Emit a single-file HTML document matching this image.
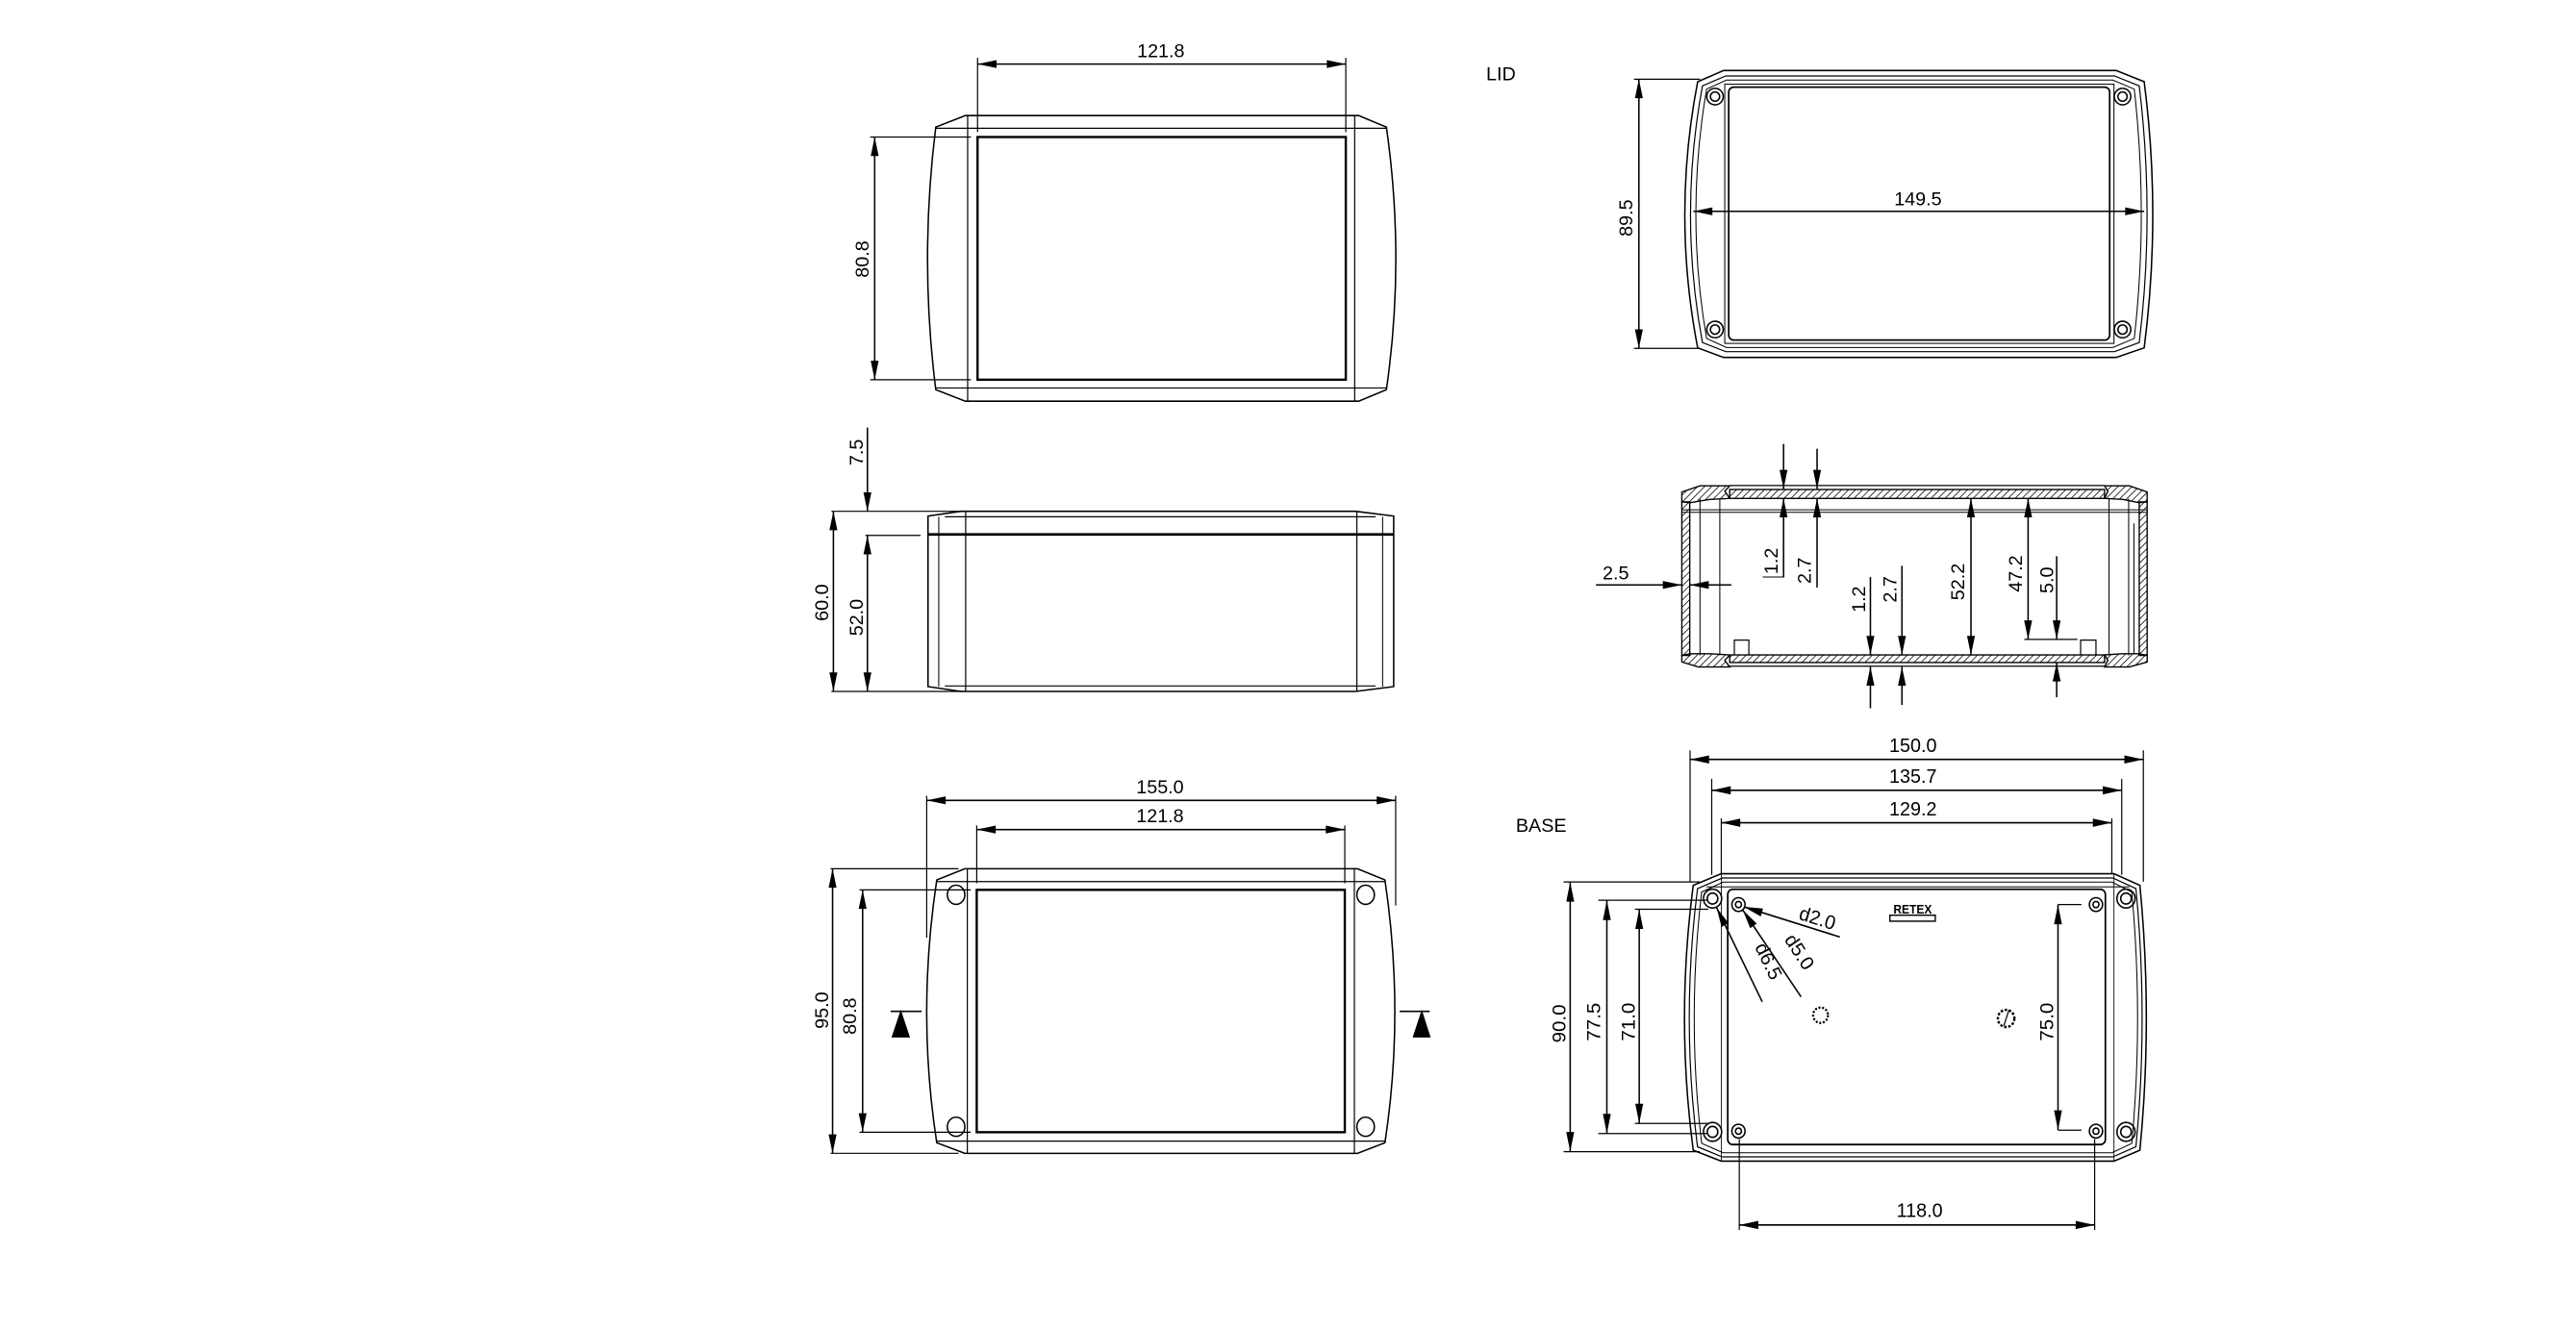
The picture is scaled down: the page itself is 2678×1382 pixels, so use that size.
<!DOCTYPE html>
<html><head><meta charset="utf-8"><style>
html,body{margin:0;padding:0;background:#fff;}
svg{display:block;}
text{font-family:"Liberation Sans",sans-serif;font-size:11.5px;fill:#000;stroke:none;}
</style></head><body>
<svg width="2678" height="1382" viewBox="0 0 1560 805" preserveAspectRatio="none" xmlns="http://www.w3.org/2000/svg">
<defs>
<marker id="a" markerUnits="userSpaceOnUse" viewBox="-12 -3 13 6" refX="0" refY="0" markerWidth="13" markerHeight="6" orient="auto-start-reverse"><path d="M0,0 L-11.5,-2.4 L-11.5,2.4 Z" fill="#000"/></marker>
<pattern id="h" patternUnits="userSpaceOnUse" width="3" height="3" patternTransform="rotate(45)"><line x1="0" y1="0" x2="0" y2="3" stroke="#000" stroke-width="0.9"/></pattern>
</defs>
<rect width="1560" height="805" fill="#fff"/>

<!-- VIEW 1 lid top -->
<g transform="translate(-3,0)" fill="none" stroke="#000" stroke-width="0.9">
<path d="M587.6,70 L825.8,70 L842.6,77 Q854,157 842.6,236 L825.8,243 L587.6,243 L569.7,236 Q559.7,157 569.7,77 Z"/>
<line x1="569.7" y1="77.7" x2="842.6" y2="77.7" stroke-width="0.7"/>
<line x1="569.7" y1="235" x2="842.6" y2="235" stroke-width="0.7"/>
<line x1="589" y1="70" x2="589" y2="243" stroke-width="0.7"/>
<line x1="823.4" y1="70" x2="823.4" y2="243" stroke-width="0.7"/>
<rect x="595" y="83" width="223" height="147" stroke-width="1.4"/>
<line x1="595" y1="35" x2="595" y2="80" stroke-width="0.7"/>
<line x1="818" y1="35" x2="818" y2="80" stroke-width="0.7"/>
<line x1="595" y1="38.8" x2="818" y2="38.8" marker-start="url(#a)" marker-end="url(#a)"/>
<line x1="530" y1="83" x2="591" y2="83" stroke-width="0.7"/>
<line x1="530" y1="230" x2="591" y2="230" stroke-width="0.7"/>
<line x1="532.7" y1="83" x2="532.7" y2="230" marker-start="url(#a)" marker-end="url(#a)"/>
<text x="706" y="34.6" text-anchor="middle">121.8</text>
<text transform="translate(529,157) rotate(-90)" text-anchor="middle">80.8</text>
</g>
<text x="900" y="48.5">LID</text>

<!-- VIEW 2 lid bottom -->
<g transform="translate(-4.5,0)" fill="none" stroke="#000" stroke-width="0.9">
<path d="M1048.3,42.7 L1286,42.7 L1303,49.5 Q1313.4,130 1303,210.7 L1286,216.5 L1048.3,216.5 L1032.6,210.7 Q1017,130 1032.6,49.5 Z"/>
<path d="M1049.6,46 L1285,46 L1300,52 Q1309.5,130 1300,207.5 L1285,213 L1049.6,213 L1035.5,207.5 Q1021,130 1035.5,52 Z" stroke-width="0.7"/>
<path d="M1050,48.5 L1284,48.5 L1297,54 Q1305.5,130 1297,205 L1284,210.5 L1050,210.5 L1038,205 Q1025,130 1038,54 Z" stroke-width="0.6"/>
<rect x="1049" y="51" width="235.7" height="157" stroke-width="0.6"/>
<rect x="1051.4" y="52.8" width="230.7" height="153.2" rx="3" stroke-width="1"/>
<circle cx="1043.1" cy="58.5" r="5"/><circle cx="1043.1" cy="58.5" r="2.8"/>
<circle cx="1289.9" cy="58.5" r="5"/><circle cx="1289.9" cy="58.5" r="2.8"/>
<circle cx="1043.1" cy="199.6" r="5"/><circle cx="1043.1" cy="199.6" r="2.8"/>
<circle cx="1289.9" cy="199.6" r="5"/><circle cx="1289.9" cy="199.6" r="2.8"/>
<line x1="994" y1="48" x2="1034" y2="48" stroke-width="0.7"/>
<line x1="994" y1="211" x2="1034" y2="211" stroke-width="0.7"/>
<line x1="997" y1="48" x2="997" y2="211" marker-start="url(#a)" marker-end="url(#a)"/>
<line x1="1030" y1="128" x2="1303" y2="128" marker-start="url(#a)" marker-end="url(#a)"/>
<text x="1166" y="124.3" text-anchor="middle">149.5</text>
<text transform="translate(993,132) rotate(-90)" text-anchor="middle">89.5</text>
</g>

<!-- VIEW 3 side -->
<g transform="translate(-2.5,0)" fill="none" stroke="#000" stroke-width="0.9">
<path d="M584.4,309.7 L823.4,309.7 L846.5,312.6 L846.5,415.9 L823.4,418.8 L584.4,418.8 L564.5,415.9 L564.5,312.6 Z"/>
<line x1="564.5" y1="323.7" x2="846.5" y2="323.7" stroke-width="1.6"/>
<line x1="574.7" y1="313" x2="835.6" y2="313" stroke-width="0.7"/>
<line x1="574.7" y1="415.5" x2="835.6" y2="415.5" stroke-width="0.7"/>
<line x1="587.3" y1="309.7" x2="587.3" y2="418.8" stroke-width="0.7"/>
<line x1="824.2" y1="309.7" x2="824.2" y2="418.8" stroke-width="0.7"/>
<line x1="571" y1="313" x2="571" y2="416" stroke-width="0.6"/>
<line x1="839.8" y1="313" x2="839.8" y2="416" stroke-width="0.6"/>
<line x1="527.8" y1="259" x2="527.8" y2="309.7" marker-end="url(#a)"/>
<line x1="506" y1="309.7" x2="584" y2="309.7" stroke-width="0.7"/>
<line x1="526.6" y1="324.3" x2="560" y2="324.3" stroke-width="0.7"/>
<line x1="506" y1="418.8" x2="586" y2="418.8" stroke-width="0.7"/>
<line x1="507.2" y1="309.7" x2="507.2" y2="418.8" marker-start="url(#a)" marker-end="url(#a)"/>
<line x1="527.8" y1="324.3" x2="527.8" y2="418.8" marker-start="url(#a)" marker-end="url(#a)"/>
<text transform="translate(525,274) rotate(-90)" text-anchor="middle">7.5</text>
<text transform="translate(504,365) rotate(-90)" text-anchor="middle">60.0</text>
<text transform="translate(525,374) rotate(-90)" text-anchor="middle">52.0</text>
</g>

<!-- VIEW 4 section -->
<g transform="translate(-4.5,-1)" fill="none" stroke="#000" stroke-width="0.9">
<g fill="url(#h)" stroke-width="0.8">
<rect x="1023" y="305" width="4.8" height="93"/>
<rect x="1300" y="305" width="4.8" height="93"/>
<rect x="1052" y="297.5" width="227" height="5.4"/>
<rect x="1052" y="397.7" width="227" height="4.6"/>
<path d="M1023,305 L1023,299 L1034,295.3 L1052,295.3 L1049,298.5 L1052,302.9 L1040,303.5 L1027.8,305.5 Z"/>
<path d="M1304.8,305 L1304.8,299 L1294,295.3 L1279,295.3 L1281,298.5 L1279,302.9 L1290,303.5 L1300,305.5 Z"/>
<path d="M1023,398 L1023,402 L1033,405 L1052,405 L1049,401 L1052,397.7 L1040,397 L1027.8,397 Z"/>
<path d="M1304.8,398 L1304.8,402 L1294,405 L1279,405 L1281,401 L1279,397.7 L1290,397 L1300,397 Z"/>
</g>
<line x1="1052" y1="295.1" x2="1279" y2="295.1" stroke-width="0.7"/>
<line x1="1052" y1="404.5" x2="1279" y2="404.5" stroke-width="0.7"/>
<line x1="1023" y1="309.8" x2="1305" y2="309.8" stroke-width="0.6"/>
<line x1="1023" y1="311.3" x2="1305" y2="311.3" stroke-width="0.6"/>
<line x1="1034" y1="303" x2="1034" y2="398" stroke-width="0.6"/>
<line x1="1046" y1="303" x2="1046" y2="398" stroke-width="0.6"/>
<line x1="1281.7" y1="303" x2="1281.7" y2="398" stroke-width="0.6"/>
<line x1="1293.6" y1="303" x2="1293.6" y2="398" stroke-width="0.6"/>
<line x1="1296.8" y1="318" x2="1296.8" y2="397" stroke-width="0.6"/>
<path d="M1054.8,397.7 L1054.8,388.7 L1063.6,388.7 L1063.6,397.7" stroke-width="0.7"/>
<path d="M1264.5,397.7 L1264.5,388.7 L1273.8,388.7 L1273.8,397.7" stroke-width="0.7"/>
<line x1="971" y1="355.3" x2="1023" y2="355.3" marker-end="url(#a)"/>
<line x1="1053" y1="355.3" x2="1027.8" y2="355.3" marker-end="url(#a)"/>
<line x1="1084.6" y1="269.9" x2="1084.6" y2="297.1" marker-end="url(#a)"/>
<line x1="1084.6" y1="350.5" x2="1084.6" y2="302.9" marker-end="url(#a)"/>
<line x1="1072" y1="350.5" x2="1085" y2="350.5" stroke-width="0.6"/>
<line x1="1104.9" y1="272.8" x2="1104.9" y2="297.1" marker-end="url(#a)"/>
<line x1="1104.9" y1="356.9" x2="1104.9" y2="302.9" marker-end="url(#a)"/>
<line x1="1198.1" y1="302.9" x2="1198.1" y2="397.7" marker-start="url(#a)" marker-end="url(#a)"/>
<line x1="1232.7" y1="302.9" x2="1232.7" y2="388.3" marker-start="url(#a)" marker-end="url(#a)"/>
<line x1="1230.4" y1="388.3" x2="1262.6" y2="388.3" stroke-width="0.7"/>
<line x1="1250" y1="337.9" x2="1250" y2="388.3" marker-end="url(#a)"/>
<line x1="1250" y1="423.3" x2="1250" y2="402.3" marker-end="url(#a)"/>
<line x1="1137.2" y1="350.5" x2="1137.2" y2="397.7" marker-end="url(#a)"/>
<line x1="1137.2" y1="430" x2="1137.2" y2="404.8" marker-end="url(#a)"/>
<line x1="1156.3" y1="343.7" x2="1156.3" y2="397.7" marker-end="url(#a)"/>
<line x1="1156.3" y1="428" x2="1156.3" y2="404.8" marker-end="url(#a)"/>
<text x="983" y="352" text-anchor="middle">2.5</text>
<text transform="translate(1081,340.8) rotate(-90)" text-anchor="middle">1.2</text>
<text transform="translate(1101,346.6) rotate(-90)" text-anchor="middle">2.7</text>
<text transform="translate(1134,364) rotate(-90)" text-anchor="middle">1.2</text>
<text transform="translate(1153,358) rotate(-90)" text-anchor="middle">2.7</text>
<text transform="translate(1194,353.4) rotate(-90)" text-anchor="middle">52.2</text>
<text transform="translate(1229,348.5) rotate(-90)" text-anchor="middle">47.2</text>
<text transform="translate(1248,352.4) rotate(-90)" text-anchor="middle">5.0</text>
</g>

<!-- VIEW 5 base top -->
<g transform="translate(-2.5,0)" fill="none" stroke="#000" stroke-width="0.9">
<path d="M586.8,526.2 L824.6,526.2 L841.2,533 Q853.2,613.6 841.2,692.2 L824.6,698.6 L586.8,698.6 L569.8,692.2 Q557.6,613.6 569.8,533 Z"/>
<line x1="569.8" y1="534" x2="841.2" y2="534" stroke-width="0.7"/>
<line x1="569.8" y1="691.2" x2="841.2" y2="691.2" stroke-width="0.7"/>
<line x1="588.3" y1="526.2" x2="588.3" y2="698.6" stroke-width="0.7"/>
<line x1="822.7" y1="526.2" x2="822.7" y2="698.6" stroke-width="0.7"/>
<rect x="594" y="539" width="222.9" height="146.8" stroke-width="1.4"/>
<ellipse cx="581.5" cy="542" rx="5.3" ry="5.8"/>
<ellipse cx="829.5" cy="542" rx="5.3" ry="5.8"/>
<ellipse cx="581.5" cy="682.5" rx="5.3" ry="5.8"/>
<ellipse cx="829.5" cy="682.5" rx="5.3" ry="5.8"/>
<line x1="563.7" y1="482" x2="563.7" y2="568" stroke-width="0.7"/>
<line x1="847.7" y1="482" x2="847.7" y2="548.5" stroke-width="0.7"/>
<line x1="563.7" y1="484.8" x2="847.7" y2="484.8" marker-start="url(#a)" marker-end="url(#a)"/>
<line x1="594" y1="500" x2="594" y2="535" stroke-width="0.7"/>
<line x1="816.9" y1="500" x2="816.9" y2="535" stroke-width="0.7"/>
<line x1="594" y1="502.5" x2="816.9" y2="502.5" marker-start="url(#a)" marker-end="url(#a)"/>
<line x1="505.5" y1="526.2" x2="583" y2="526.2" stroke-width="0.7"/>
<line x1="505.5" y1="698.6" x2="583" y2="698.6" stroke-width="0.7"/>
<line x1="506.7" y1="526.2" x2="506.7" y2="698.6" marker-start="url(#a)" marker-end="url(#a)"/>
<line x1="523" y1="539" x2="590.4" y2="539" stroke-width="0.7"/>
<line x1="523" y1="685.8" x2="590.4" y2="685.8" stroke-width="0.7"/>
<line x1="524.9" y1="539" x2="524.9" y2="685.8" marker-start="url(#a)" marker-end="url(#a)"/>
<line x1="541.9" y1="612.6" x2="560.6" y2="612.6"/>
<path d="M548,613 L543,628 L553,628 Z" fill="#000"/>
<line x1="850.1" y1="612.6" x2="868.3" y2="612.6"/>
<path d="M863.5,613 L858.6,628 L868.3,628 Z" fill="#000"/>
<text x="705" y="480.6" text-anchor="middle">155.0</text>
<text x="705" y="498" text-anchor="middle">121.8</text>
<text transform="translate(504,612) rotate(-90)" text-anchor="middle">95.0</text>
<text transform="translate(521,615.5) rotate(-90)" text-anchor="middle">80.8</text>
</g>
<text x="918" y="504">BASE</text>

<!-- VIEW 6 base bottom -->
<g transform="translate(-2.5,-14.5) scale(1,1.039)" fill="none" stroke="#000" stroke-width="0.9">
<path d="M1044.9,523.3 L1282.7,523.3 L1298.4,530.1 Q1306.2,607.7 1298.4,684.5 L1282.7,690.9 L1044.9,690.9 L1027.9,684.5 Q1017.3,607.7 1027.9,530.1 Z"/>
<path d="M1045.5,525.8 L1282,525.8 L1296,532 Q1303.5,607.7 1296,682.5 L1282,688.4 L1045.5,688.4 L1030.5,682.5 Q1020.5,607.7 1030.5,532 Z" stroke-width="0.7"/>
<path d="M1046,528.2 L1281.5,528.2 L1293.5,534 Q1300.5,607.7 1293.5,680.5 L1281.5,686 L1046,686 L1033,680.5 Q1024,607.7 1033,534 Z" stroke-width="0.6"/>
<line x1="1036" y1="531" x2="1292" y2="531" stroke-width="0.6"/>
<line x1="1044.9" y1="523.3" x2="1044.9" y2="690.9" stroke-width="0.5"/>
<line x1="1282.7" y1="523.3" x2="1282.7" y2="690.9" stroke-width="0.5"/>
<rect x="1048.8" y="532.4" width="228.7" height="148.8" rx="3" stroke-width="1"/>
<circle cx="1039.6" cy="537.8" r="5.5"/><circle cx="1039.6" cy="537.8" r="3.2"/>
<circle cx="1290" cy="537.8" r="5.5"/><circle cx="1290" cy="537.8" r="3.2"/>
<circle cx="1039.6" cy="673.8" r="5.5"/><circle cx="1039.6" cy="673.8" r="3.2"/>
<circle cx="1290" cy="673.8" r="5.5"/><circle cx="1290" cy="673.8" r="3.2"/>
<circle cx="1055.3" cy="541.3" r="4"/><circle cx="1055.3" cy="541.3" r="1.8"/>
<circle cx="1271.8" cy="541.3" r="4"/><circle cx="1271.8" cy="541.3" r="1.8"/>
<circle cx="1055.3" cy="673.4" r="4"/><circle cx="1055.3" cy="673.4" r="1.8"/>
<circle cx="1271.8" cy="673.4" r="4"/><circle cx="1271.8" cy="673.4" r="1.8"/>
<rect x="1147" y="547.5" width="27.5" height="3.5" stroke-width="0.8"/>
<circle cx="1105" cy="605.8" r="4.5" stroke-dasharray="1.2 1" stroke-width="1.3"/>
<circle cx="1217.4" cy="607.7" r="5" stroke-dasharray="1.5 1" stroke-width="1.4"/>
<line x1="1216" y1="612" x2="1219" y2="603" stroke-width="0.7"/>
<line x1="1026" y1="451.4" x2="1026" y2="528" stroke-width="0.7"/>
<line x1="1300.5" y1="451.4" x2="1300.5" y2="528" stroke-width="0.7"/>
<line x1="1026" y1="456.7" x2="1300.5" y2="456.7" marker-start="url(#a)" marker-end="url(#a)"/>
<line x1="1039.1" y1="468" x2="1039.1" y2="524" stroke-width="0.7"/>
<line x1="1287.4" y1="468" x2="1287.4" y2="524" stroke-width="0.7"/>
<line x1="1039.1" y1="474.7" x2="1287.4" y2="474.7" marker-start="url(#a)" marker-end="url(#a)"/>
<line x1="1044.9" y1="491" x2="1044.9" y2="523" stroke-width="0.7"/>
<line x1="1281.4" y1="491" x2="1281.4" y2="523" stroke-width="0.7"/>
<line x1="1044.9" y1="493.6" x2="1281.4" y2="493.6" marker-start="url(#a)" marker-end="url(#a)"/>
<line x1="949.4" y1="528.1" x2="1031.8" y2="528.1" stroke-width="0.7"/>
<line x1="949.4" y1="685.4" x2="1031.8" y2="685.4" stroke-width="0.7"/>
<line x1="953.4" y1="528.1" x2="953.4" y2="685.4" marker-start="url(#a)" marker-end="url(#a)"/>
<line x1="970.4" y1="538.8" x2="1037" y2="538.8" stroke-width="0.7"/>
<line x1="970.4" y1="674.8" x2="1037" y2="674.8" stroke-width="0.7"/>
<line x1="975.6" y1="538.8" x2="975.6" y2="674.8" marker-start="url(#a)" marker-end="url(#a)"/>
<line x1="992.6" y1="544" x2="1037" y2="544" stroke-width="0.7"/>
<line x1="992.6" y1="668.9" x2="1037" y2="668.9" stroke-width="0.7"/>
<line x1="995.2" y1="544" x2="995.2" y2="668.9" marker-start="url(#a)" marker-end="url(#a)"/>
<line x1="1248.8" y1="541.3" x2="1263" y2="541.3" stroke-width="0.7"/>
<line x1="1248.8" y1="672.8" x2="1263" y2="672.8" stroke-width="0.7"/>
<line x1="1248.8" y1="541.3" x2="1248.8" y2="672.8" marker-start="url(#a)" marker-end="url(#a)"/>
<line x1="1055.8" y1="678" x2="1055.8" y2="731" stroke-width="0.7"/>
<line x1="1271" y1="678" x2="1271" y2="731" stroke-width="0.7"/>
<line x1="1055.8" y1="728.1" x2="1271" y2="728.1" marker-start="url(#a)" marker-end="url(#a)"/>
<line x1="1116.7" y1="560.2" x2="1058.5" y2="542.6" marker-end="url(#a)"/>
<line x1="1093.2" y1="595.1" x2="1057.8" y2="544.3" marker-end="url(#a)"/>
<line x1="1069.7" y1="598" x2="1042" y2="543" marker-end="url(#a)"/>
<text x="1161" y="452.4" text-anchor="middle">150.0</text>
<text x="1161" y="470.3" text-anchor="middle">135.7</text>
<text x="1161" y="489.3" text-anchor="middle">129.2</text>
<text x="1165" y="723.5" text-anchor="middle">118.0</text>
<text transform="translate(950.5,610.7) rotate(-90)" text-anchor="middle">90.0</text>
<text transform="translate(971.5,609.7) rotate(-90)" text-anchor="middle">77.5</text>
<text transform="translate(992.5,609.7) rotate(-90)" text-anchor="middle">71.0</text>
<text transform="translate(1246,609.7) rotate(-90)" text-anchor="middle">75.0</text>
<text transform="translate(1102,553) rotate(17)" text-anchor="middle">d2.0</text>
<text transform="translate(1089,571) rotate(56.5)" text-anchor="middle">d5.0</text>
<text transform="translate(1070,576) rotate(63.6)" text-anchor="middle">d6.5</text>
<text x="1160.8" y="546.5" text-anchor="middle" style="font-size:7px;font-weight:bold;">RETEX</text>
</g>
</svg>
</body></html>
